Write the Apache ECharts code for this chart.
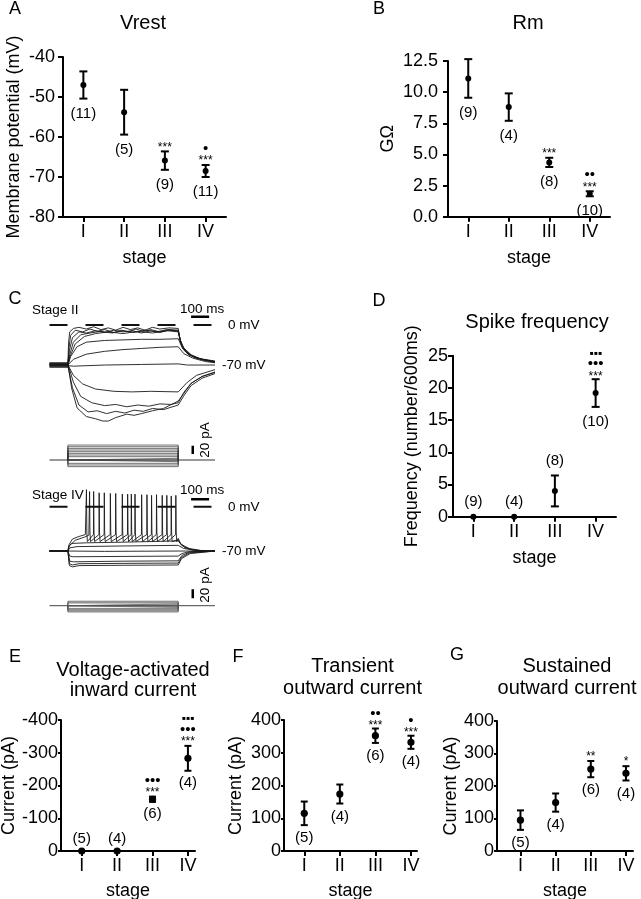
<!DOCTYPE html>
<html><head><meta charset="utf-8">
<script src="https://cdn.jsdelivr.net/npm/echarts@6/dist/echarts.min.js"></script>
<style>html,body{margin:0;padding:0;background:#fff}#c{width:641px;height:899px}</style>
</head><body><div id="c"></div>
<script>
const FONT = '"Liberation Sans", Arial, Helvetica, sans-serif';

// ---------- summary data ----------
const stages = ['I', 'II', 'III', 'IV'];
const stagePos = [1, 2, 3, 4];

// A  Vrest (mV)
const vrestMean = [-47.0, -53.8, -65.9, -68.5];
const vrestSem  = [3.4, 5.6, 2.3, 1.5];
const vrestN    = [11, 5, 9, 11];
const vrestSig  = [[], [], ['***'], ['***', '•']];
const vrestAxis = [-80, -40, 10];

// B  Rm (GOhm)
const rmMean = [11.1, 8.8, 4.36, 1.84];
const rmSem  = [1.55, 1.1, 0.37, 0.2];
const rmN    = [9, 4, 8, 10];
const rmSig  = [[], [], ['***'], ['***', '••']];
const rmAxis = [0, 12.5, 2.5];

// D  Spike frequency
const freqMean = [0, 0, 4.0, 19.2];
const freqSem  = [0, 0, 2.4, 2.15];
const freqN    = [9, 4, 8, 10];
const freqSig  = [[], [], [], ['***', '•••', '▪▪▪']];
const freqAxis = [0, 25, 5];

// E  Voltage-activated inward current (pA)
const inwardMean = [0, 0, -158, -283];
const inwardSem  = [0, 0, 8, 38];
const inwardN    = [5, 4, 6, 4];
const inwardSig  = [[], [], ['***', '•••'], ['***', '•••', '▪▪▪']];
const inwardAxis = [-400, 0, 100];

// F  Transient outward current (pA)
const transMean = [115, 174, 352, 332];
const transSem  = [36, 29, 22, 20];
const transN    = [5, 4, 6, 4];
const transSig  = [[], [], ['***', '••'], ['***', '•']];
const transAxis = [0, 400, 100];

// G  Sustained outward current (pA)
const sustMean = [95, 149, 252, 239];
const sustSem  = [30, 28, 25, 22];
const sustN    = [5, 4, 6, 4];
const sustSig  = [[], [], ['**'], ['*']];
const sustAxis = [0, 400, 100];

// ---------- panel C recordings: [time ms, membrane potential mV] ----------
const stage2Traces = [
  [[0,-68],[100,-68],[104,-30],[110,-12],[130,-6],[160,-4],[200,-7],[240,-3],[280,-8],[320,-5],[360,-9],[400,-4],[440,-8],[480,-5],[520,-9],[560,-4],[600,-7],[650,-5],[700,-6],[710,-25],[730,-40],[770,-52],[820,-59],[900,-63]],
  [[0,-72],[100,-72],[106,-40],[115,-18],[140,-9],[180,-12],[220,-7],[260,-11],[300,-8],[350,-13],[390,-9],[430,-12],[470,-7],[510,-11],[550,-8],[600,-12],[650,-8],[700,-9],[712,-30],[735,-44],[775,-54],[830,-60],[900,-64]],
  [[0,-66],[100,-66],[108,-45],[125,-22],[160,-12],[200,-14],[250,-10],[300,-13],[350,-9],[400,-12],[450,-10],[500,-14],[550,-10],[600,-13],[650,-9],[700,-10],[715,-33],[740,-46],[780,-55],[840,-61],[900,-65]],
  [[0,-74],[100,-74],[110,-52],[130,-30],[170,-17],[220,-14],[280,-11],[340,-14],[400,-10],[460,-13],[520,-9],[580,-12],[640,-8],[700,-11],[718,-35],[745,-48],[790,-57],[850,-62],[900,-65]],
  [[0,-69],[100,-69],[112,-55],[140,-33],[190,-20],[250,-15],[320,-12],[400,-15],[480,-11],[560,-14],[640,-10],[700,-12],[720,-37],[750,-50],[800,-58],[900,-64]],
  [[0,-70],[100,-70],[115,-55],[150,-38],[200,-30],[300,-27],[400,-26],[500,-25],[600,-25],[700,-24],[725,-42],[760,-53],[820,-60],[900,-65]],
  [[0,-70],[100,-70],[130,-60],[200,-51],[300,-46],[400,-43],[500,-41],[600,-39],[700,-38],[730,-50],[780,-58],[850,-64],[900,-66]],
  [[0,-71],[100,-71],[130,-72],[300,-70],[500,-69],[700,-68],[750,-70],[900,-70]],
  [[0,-70],[100,-70],[130,-88],[180,-103],[250,-112],[350,-116],[450,-117],[550,-116],[700,-117],[750,-100],[800,-88],[900,-78]],
  [[0,-68],[100,-68],[130,-100],[170,-125],[230,-136],[300,-141],[360,-139],[420,-143],[480,-140],[540,-142],[600,-138],[660,-139],[700,-136],[730,-118],[770,-102],[830,-90],[900,-82]],
  [[0,-72],[100,-72],[125,-110],[160,-140],[210,-152],[260,-150],[310,-155],[360,-151],[410,-154],[460,-149],[510,-151],[560,-146],[620,-148],[700,-140],[730,-124],[770,-106],[830,-93],[900,-85]],
  [[0,-67],[100,-67],[120,-110],[150,-145],[200,-160],[250,-164],[290,-168],[320,-168],[360,-162],[420,-156],[460,-158],[500,-155],[560,-150],[620,-146],[700,-133],[730,-120],[770,-102],[830,-90],[900,-83]]
];
const stage2Steps = [-16, -12, -8, -4, 0, 4, 8, 12, 16, 20, 24, 28, 32, 36]; // pA

const stage4Traces = [
  [[0,-70],[100,-70],[105,-62],[120,-58],[200,-57],[400,-56],[700,-54],[720,-60],[760,-66],[820,-69],[900,-70]],
  [[0,-70],[100,-70],[110,-65],[150,-63],[400,-62],[700,-61],[730,-66],[800,-69],[900,-70]],
  [[0,-70],[100,-70],[300,-70.5],[700,-70],[900,-70]],
  [[0,-70],[100,-70],[110,-78],[130,-79],[400,-78.5],[700,-78],[720,-74],[760,-71],[900,-70]],
  [[0,-70],[100,-70],[110,-86],[130,-87],[400,-86],[700,-85.5],[720,-77],[760,-72],[900,-70]],
  [[0,-70],[100,-70],[108,-90],[125,-92],[160,-90],[400,-89.5],[700,-89],[718,-80],[760,-73],[900,-70]],
  [[0,-70],[100,-70],[108,-93],[125,-95],[160,-93],[400,-92.5],[700,-92],[718,-82],[765,-74],[900,-70]]
];
const spikeTrainA = {
  pre: [[0,-70],[100,-70],[106,-60],[125,-51],[160,-47],[195,-44]],
  times: [201, 240, 298, 360, 425, 465, 530, 582, 638, 687],
  peaks: [27, 24, 22, 21, 20, 20, 19, 19, 18, 18],
  post: [[700,-50],[712,-58],[735,-64],[770,-68],[830,-70],[900,-70]]
};
const spikeTrainB = {
  pre: [[0,-70],[100,-70],[108,-62],[140,-53],[190,-48],[214,-45]],
  times: [218, 270, 331, 396, 445, 501, 555, 613, 662],
  peaks: [24, 22, 21, 20, 20, 19, 18, 18, 17],
  post: [[700,-52],[715,-60],[740,-65],[780,-68],[850,-70],[900,-70]]
};
const spikeThreshold = -44, spikeTrough = -55;
const stage4Steps = [-14, -12, -10, -8, -6, -4, -2, 0, 2, 4, 6, 8, 10]; // pA

const stepOn = 100, stepOff = 700, sweepEnd = 900;

// ---------- helpers ----------
function buildSpiking(tr) {
  const pts = tr.pre.slice();
  tr.times.forEach((t, i) => {
    pts.push([t - 1, spikeThreshold], [t, tr.peaks[i]], [t + 2, -40], [t + 5, spikeTrough]);
  });
  return pts.concat(tr.post);
}
function stepTrace(a) {
  return [[stepOn, 0], [stepOn, a], [stepOff, a], [stepOff, 0]];
}
function txt(t, x, y, size) {
  return {type: 'text', style: {text: t, x: x, y: y, fill: '#000', font: size + 'px ' + FONT,
    textAlign: 'center', textVerticalAlign: 'middle', align: 'center', verticalAlign: 'middle'}};
}
function errRender(p) {
  return function (params, api) {
    const i = params.dataIndex;
    const x = api.value(0), m = api.value(1), s = api.value(2);
    const c = api.coord([x, m]);
    const ya = api.coord([x, m + s])[1], yb = api.coord([x, m - s])[1];
    const top = Math.min(ya, yb), bot = Math.max(ya, yb);
    const st = {stroke: '#000', lineWidth: 2};
    const ch = [];
    if (s > 0) {
      ch.push({type: 'line', shape: {x1: c[0], y1: top, x2: c[0], y2: bot}, style: st});
      ch.push({type: 'line', shape: {x1: c[0] - p.cap, y1: top, x2: c[0] + p.cap, y2: top}, style: st});
      ch.push({type: 'line', shape: {x1: c[0] - p.cap, y1: bot, x2: c[0] + p.cap, y2: bot}, style: st});
    }
    ch.push({type: 'circle', shape: {cx: c[0], cy: c[1], r: p.r}, style: {fill: '#000'}});
    const above = p.nPos[i] === 'above';
    ch.push(txt('(' + p.n[i] + ')', c[0], above ? top - p.nOff : bot + p.nOff, 15));
    let y = top - p.sig0;
    p.sig[i].forEach((sym, k) => {
      const sq = sym.indexOf('▪') >= 0, star = sym.indexOf('*') >= 0;
      if (k > 0) y -= sq ? 11 : 9;
      ch.push(txt(sym, c[0], y + (star ? 3 : 0), star ? 12 : (sq ? 12 : 15)));
    });
    return {type: 'group', children: ch};
  };
}

// ---------- panel layout ----------
const fmt0 = v => String(v);
const panels = [
  {grid: {left: 63, top: 57, width: 163, height: 160}, x: [0.5, 4.5], y: vrestAxis, name: 'Membrane potential (mV)', nameGap: 40, lm: 8, tl: 5, fmt: fmt0,
   mean: vrestMean, sem: vrestSem, n: vrestN, sig: vrestSig, nPos: ['below','below','below','below'], r: 3, cap: 4, nOff: 15, sig0: 7, xGap: 32},
  {grid: {left: 448, top: 61, width: 162, height: 155.7}, x: [0.5, 4.5], y: rmAxis, name: 'GΩ', nameGap: 51, lm: 10, tl: 5, fmt: v => v.toFixed(1),
   mean: rmMean, sem: rmSem, n: rmN, sig: rmSig, nPos: ['below','below','below','below'], r: 3, cap: 4, nOff: 15, sig0: 7, xGap: 32},
  {grid: {left: 453, top: 355.7, width: 163, height: 161}, x: [0.5, 4.5], y: freqAxis, name: 'Frequency (number/600ms)', nameGap: 32, lm: 5, tl: 5, fmt: fmt0,
   mean: freqMean, sem: freqSem, n: freqN, sig: freqSig, nPos: ['above','above','above','below'], r: 3, cap: 4, nOff: 15, sig0: 6, xGap: 32},
  {grid: {left: 61, top: 720, width: 134, height: 131}, x: [0.415, 4.2], y: inwardAxis, inverse: true, name: 'Current (pA)', nameGap: 43, lm: 3, tl: 3, fmt: fmt0,
   mean: inwardMean, sem: inwardSem, n: inwardN, sig: inwardSig, nPos: ['above','above','below','below'], r: 3.6, cap: 3.5, nOff: 12, sig0: 7, xGap: 31},
  {grid: {left: 284, top: 720, width: 133, height: 131}, x: [0.43, 4.17], y: transAxis, name: 'Current (pA)', nameGap: 39, lm: 3, tl: 3, fmt: fmt0,
   mean: transMean, sem: transSem, n: transN, sig: transSig, nPos: ['below','below','below','below'], r: 3.6, cap: 3.5, nOff: 13, sig0: 6, xGap: 31},
  {grid: {left: 497, top: 721, width: 136, height: 130}, x: [0.333, 4.2], y: sustAxis, name: 'Current (pA)', nameGap: 37, lm: 3, tl: 3, fmt: fmt0,
   mean: sustMean, sem: sustSem, n: sustN, sig: sustSig, nPos: ['below','below','below','below'], r: 3.6, cap: 3.5, nOff: 13, sig0: 7, xGap: 31}
];

// recording grids (panel C)
const recGrids = [
  {grid: {left: 49.5, top: 313.6, width: 165.5, height: 114.3}, y: [-180, 20]},   // stage II voltage
  {grid: {left: 49.5, top: 439.25, width: 165.5, height: 33.2}, y: [-30, 50]},    // stage II current
  {grid: {left: 49.5, top: 481.4, width: 165.5, height: 101.3}, y: [-120, 40]},   // stage IV voltage
  {grid: {left: 49.5, top: 587.7, width: 165.5, height: 31.5}, y: [-30, 40]}      // stage IV current
];

const grid = [], xAxis = [], yAxis = [], series = [];
panels.forEach((p, k) => {
  grid.push(Object.assign({containLabel: false, outerBoundsMode: 'none'}, p.grid));
  xAxis.push({type: 'value', gridIndex: k, min: p.x[0], max: p.x[1],
    axisLine: {show: true, onZero: false, lineStyle: {color: '#000', width: 2}},
    axisTick: {show: true, customValues: stagePos, length: 5, lineStyle: {color: '#000', width: 2}},
    axisLabel: {show: true, customValues: stagePos, formatter: v => stages[Math.round(v) - 1], color: '#000', fontSize: 18, margin: 6, fontFamily: FONT},
    splitLine: {show: false}, name: 'stage', nameLocation: 'middle', nameGap: p.xGap,
    nameTextStyle: {color: '#000', fontSize: 18, fontFamily: FONT}});
  yAxis.push({type: 'value', gridIndex: k, min: p.y[0], max: p.y[1], interval: p.y[2], inverse: !!p.inverse,
    axisLine: {show: true, onZero: false, lineStyle: {color: '#000', width: 2}},
    axisTick: {show: true, length: p.tl, lineStyle: {color: '#000', width: 2}},
    axisLabel: {color: '#000', fontSize: 18, margin: p.lm, formatter: p.fmt, fontFamily: FONT},
    splitLine: {show: false}, name: p.name, nameLocation: 'middle', nameGap: p.nameGap, nameRotate: 90,
    nameTextStyle: {color: '#000', fontSize: 18, fontFamily: FONT}});
  series.push({type: 'custom', xAxisIndex: k, yAxisIndex: k, renderItem: errRender(p), clip: false, silent: true,
    data: stagePos.map((sx, i) => [sx, p.mean[i], p.sem[i]])});
});
recGrids.forEach((g, j) => {
  const k = panels.length + j;
  grid.push(Object.assign({containLabel: false, outerBoundsMode: 'none'}, g.grid));
  xAxis.push({type: 'value', gridIndex: k, min: 0, max: sweepEnd, show: false});
  yAxis.push({type: 'value', gridIndex: k, min: g.y[0], max: g.y[1], show: false});
});
const gV2 = panels.length, gI2 = gV2 + 1, gV4 = gV2 + 2, gI4 = gV2 + 3;
function line(gi, data, w, color, type) {
  return {type: 'line', xAxisIndex: gi, yAxisIndex: gi, data: data, showSymbol: false, symbol: 'none', silent: true,
    lineStyle: {width: w, color: color, type: type || 'solid'}, z: 3};
}
stage2Traces.forEach(tr => series.push(line(gV2, tr, 0.9, '#1a1a1a')));
series.push(line(gV2, [[0, 0], [884, 0]], 2, '#111', [18, 18]));
series.push(line(gV2, [[770, 14.5], [868, 14.5]], 2.5, '#000'));
series.push(line(gI2, [[0, 0], [sweepEnd, 0]], 1, '#333'));
stage2Steps.forEach(a => series.push(line(gI2, stepTrace(a), 0.7, '#333')));
series.push(line(gI2, [[779, 14.5], [779, 34.5]], 2.5, '#000'));

stage4Traces.forEach(tr => series.push(line(gV4, tr, 0.9, '#1a1a1a')));
series.push(line(gV4, buildSpiking(spikeTrainA), 0.9, '#1a1a1a'));
series.push(line(gV4, buildSpiking(spikeTrainB), 0.9, '#1a1a1a'));
series.push(line(gV4, [[0, 0], [884, 0]], 2, '#111', [18, 18]));
series.push(line(gV4, [[770, 12], [868, 12]], 2.5, '#000'));
series.push(line(gI4, [[0, 0], [sweepEnd, 0]], 1, '#444'));
stage4Steps.forEach(a => series.push(line(gI4, stepTrace(a), 0.7, '#555')));
series.push(line(gI4, [[779, 16.4], [779, 36.4]], 2.5, '#000'));

// ---------- text ----------
function gt(t, x, y, size, align, rot) {
  return {type: 'text', x: x, y: y, rotation: rot || 0, silent: true,
    style: {text: t, x: 0, y: 0, fill: '#000', font: size + 'px ' + FONT,
      textAlign: align || 'center', textVerticalAlign: 'middle', align: align || 'center', verticalAlign: 'middle'}};
}
const graphic = [
  gt('A', 15, 9, 18), gt('B', 379, 9, 18), gt('C', 15, 299, 18), gt('D', 379, 301, 18),
  gt('E', 15, 657, 18), gt('F', 238, 657, 18), gt('G', 457, 655, 18),
  gt('Vrest', 143, 23, 20), gt('Rm', 528, 23, 20), gt('Spike frequency', 537, 322, 20),
  gt('Voltage-activated', 133, 670, 20), gt('inward current', 133, 690, 20),
  gt('Transient', 352.5, 666, 20), gt('outward current', 352.5, 688, 20),
  gt('Sustained', 567, 666, 20), gt('outward current', 567, 688, 20),
  gt('Stage II', 32, 310, 13.5, 'left'), gt('100 ms', 180, 309, 13.5, 'left'),
  gt('0 mV', 228, 325, 13.5, 'left'), gt('-70 mV', 222, 365, 13.5, 'left'),
  gt('20 pA', 205, 440, 13.5, 'center', Math.PI / 2),
  gt('Stage IV', 32, 495, 13.5, 'left'), gt('100 ms', 180, 490, 13.5, 'left'),
  gt('0 mV', 228, 507, 13.5, 'left'), gt('-70 mV', 222, 551, 13.5, 'left'),
  gt('20 pA', 205, 585, 13.5, 'center', Math.PI / 2)
];

const chart = echarts.init(document.getElementById('c'), null, {renderer: 'canvas'});
chart.setOption({
  animation: false,
  backgroundColor: '#fff',
  textStyle: {fontFamily: FONT, color: '#000'},
  grid: grid, xAxis: xAxis, yAxis: yAxis, series: series, graphic: graphic
});
</script></body></html>
